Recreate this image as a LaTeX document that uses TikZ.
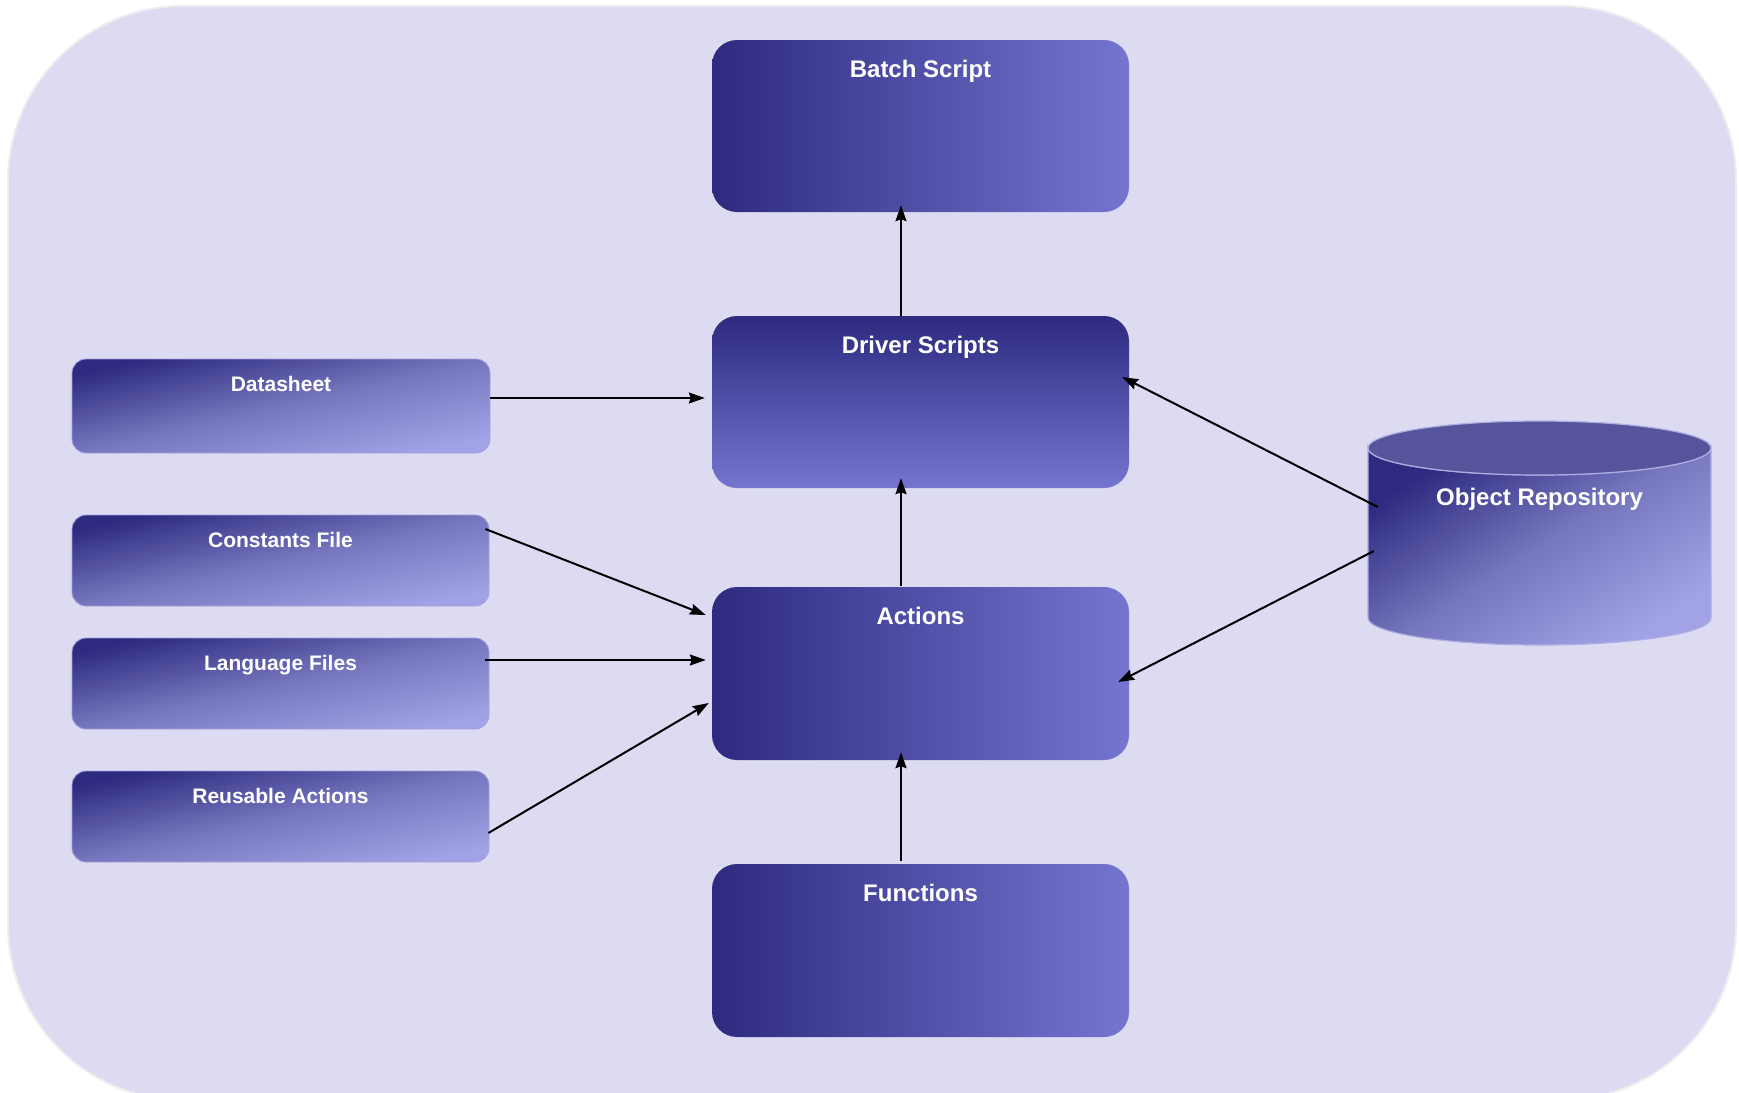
\documentclass[tikz,border=0pt]{standalone}
\usepackage{fontspec}
\setmainfont{Liberation Sans}
\usetikzlibrary{arrows.meta,calc}
\definecolor{bgc}{HTML}{DCDBF2}
\definecolor{bgline}{HTML}{EDEDF0}
\definecolor{dk}{HTML}{2D2A7F}
\definecolor{lt}{HTML}{7575D0}
\definecolor{lt2}{HTML}{A2A2E6}
\definecolor{mid2}{HTML}{7676BE}
\definecolor{captop}{HTML}{56559B}
\definecolor{cylline}{HTML}{AEAEE2}
\definecolor{boxline}{HTML}{A0A0E0}
\begin{document}
\begin{tikzpicture}[x=1pt,y=-1pt,
  bigbox/.style={rounded corners=25pt, minimum width=417pt, minimum height=172pt, inner sep=0pt},
  hbox/.style={bigbox, left color=dk, right color=lt},
  vbox/.style={bigbox, top color=dk, bottom color=lt},
  smallbox/.style={rounded corners=14pt, minimum width=417pt, minimum height=91pt, inner sep=0pt,
    draw=boxline, line width=0.8pt, top color=dk, bottom color=lt2, middle color=mid2, shading angle=12.5},
  biglabel/.style={anchor=base, text=white, font=\fontsize{24}{28}\selectfont\bfseries, inner sep=0pt},
  smalllabel/.style={anchor=base, text=white, font=\fontsize{21}{25}\selectfont\bfseries, inner sep=0pt},
  arr/.style={line width=2pt, -{Stealth[length=16pt,width=11pt,inset=2pt]}}
]
\useasboundingbox (0,0) rectangle (1739,1092);
\fill[white] (0,0) rectangle (1739,1092);
% background panel
\filldraw[fill=bgc, draw=bgline, line width=2pt, rounded corners=175pt] (8,6) rectangle (1736,1100);

% main column
\node[hbox] (bat) at (920.5,126) {};
\node[vbox] (drv) at (920.5,402) {};
\node[hbox, minimum height=173pt] (act) at (920.5,673.5) {};
\node[hbox, minimum height=173pt] (fun) at (920.5,950.5) {};
\node[biglabel] (batT) at ($(bat.north)+(0,38)$) {Batch Script};
\node[biglabel] (drvT) at ($(drv.north)+(0,38)$) {Driver Scripts};
\node[biglabel] (actT) at ($(act.north)+(0,38)$) {Actions};
\node[biglabel] (funT) at ($(fun.north)+(0,38)$) {Functions};

% left inputs
\node[smallbox, minimum width=418pt, minimum height=94pt, shading angle=12.7] (dat) at (281,406) {};
\node[smallbox, shading angle=12.3] (con) at (280.5,560.5) {};
\node[smallbox, shading angle=12.3] (lan) at (280.5,683.5) {};
\node[smallbox, shading angle=12.3] (reu) at (280.5,816.5) {};
\node[smalllabel] (datT) at ($(dat.north)+(0,33)$) {Datasheet};
\node[smalllabel] (conT) at ($(con.north)+(0,33)$) {Constants File};
\node[smalllabel] (lanT) at ($(lan.north)+(0,33)$) {Language Files};
\node[smalllabel] (reuT) at ($(reu.north)+(0,33)$) {Reusable Actions};

% object repository cylinder
\shade[top color=dk, bottom color=lt2, middle color=mid2, shading angle=33, draw=cylline, line width=1.2pt]
  (1368,448) -- (1368,618) arc[start angle=180, end angle=0, x radius=171.5, y radius=27]
  -- (1711,448) arc[start angle=0, end angle=180, x radius=171.5, y radius=27] -- cycle;
\filldraw[fill=captop, draw=cylline, line width=1.2pt] (1539.5,448) ellipse[x radius=171.5, y radius=27];
\node[minimum width=343pt, minimum height=225pt, inner sep=0pt] (rep) at (1539.5,532.5) {};
\node[biglabel] (repT) at (1539.5,505) {Object Repository};

% connectors
\draw[arr] ($(drv.north)+(-19.5,0)$) -- ($(bat.south)+(-19.5,-7)$);
\draw[arr] ($(act.north)+(-19.5,-1)$) -- ($(drv.south)+(-19.5,-10)$);
\draw[arr] ($(fun.north)+(-19.5,-3)$) -- ($(act.south)+(-19.5,-8)$);
\draw[arr] ($(dat.east)+(0,-8)$) -- ($(drv.west)+(-7,-4)$);
\draw[arr] ($(con.east)+(-4,-31.5)$) -- ($(act.west)+(-6,-58.5)$);
\draw[arr] ($(lan.east)+(-4,-23.5)$) -- ($(act.west)+(-6,-13.5)$);
\draw[arr] ($(reu.east)+(-1,16.5)$) -- ($(act.west)+(-3,29.5)$);
\draw[arr] ($(rep.west)+(10,-25.5)$) -- ($(drv.east)+(-7,-25)$);
\draw[arr] ($(rep.west)+(6,18.5)$) -- ($(act.east)+(-11,8.5)$);
\end{tikzpicture}
\end{document}
